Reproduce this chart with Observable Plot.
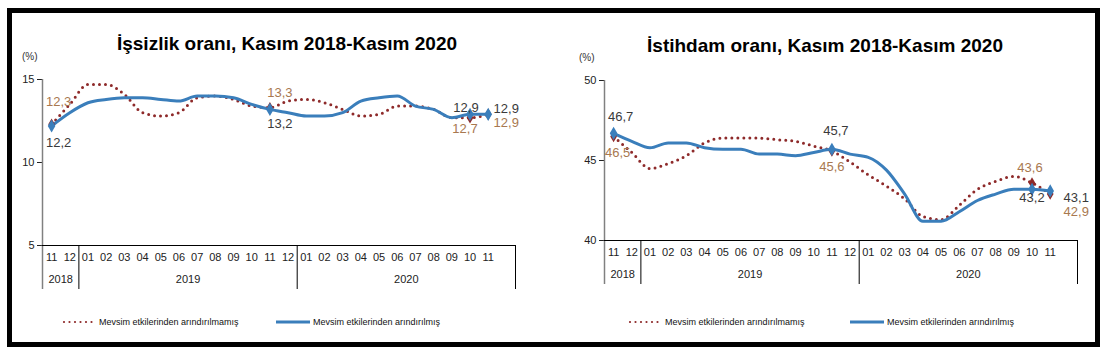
<!DOCTYPE html>
<html><head><meta charset="utf-8">
<script src="https://cdn.jsdelivr.net/npm/d3@7"></script>
<script src="https://cdn.jsdelivr.net/npm/@observablehq/plot@0.6"></script>
<style>
body{margin:0;background:#fff;font-family:"Liberation Sans",Arial,sans-serif;}
#page{position:relative;width:1104px;height:355px;overflow:hidden;background:#fff;}
#frame{position:absolute;left:7px;top:8px;width:1093px;height:339px;border:5px solid #000;box-sizing:border-box;}
.title{position:absolute;font-weight:bold;font-size:19px;color:#000;white-space:nowrap;transform:translateX(-50%);}
.unit{position:absolute;font-size:10px;color:#333;}
.chart{position:absolute;top:0;}
.leg{position:absolute;top:317px;font-size:9px;color:#111;display:flex;align-items:center;white-space:nowrap;}
.leg svg{margin-right:3px;}
</style></head><body>
<div id="page">
  <div id="frame"></div>
  <div class="title" style="left:287px;top:33px">İşsizlik oranı, Kasım 2018-Kasım 2020</div>
  <div class="title" style="left:825px;top:35px">İstihdam oranı, Kasım 2018-Kasım 2020</div>
  <div class="unit" style="left:22px;top:51px">(%)</div>
  <div class="unit" style="left:579px;top:52px">(%)</div>
  <div id="left" class="chart" style="left:0px"></div>
  <div id="right" class="chart" style="left:560px"></div>
  <div id="legends"></div>
</div>
<script>
// ---- data ----
const periods = ["2018-11","2018-12",
  "2019-01","2019-02","2019-03","2019-04","2019-05","2019-06","2019-07","2019-08","2019-09","2019-10","2019-11","2019-12",
  "2020-01","2020-02","2020-03","2020-04","2020-05","2020-06","2020-07","2020-08","2020-09","2020-10","2020-11"];
const seriesNames = ["Mevsim etkilerinden arındırılmamış", "Mevsim etkilerinden arındırılmış"];
const unempNSA = [12.3,13.5,14.7,14.7,14.1,13.0,12.8,13.0,13.9,14.0,13.8,13.4,13.3,13.7,13.8,13.6,13.2,12.8,12.9,13.4,13.4,13.2,12.7,12.7,12.9];
const unempSA  = [12.2,13.0,13.6,13.8,13.9,13.9,13.8,13.7,14.0,14.0,13.9,13.5,13.2,13.0,12.8,12.8,13.0,13.7,13.9,14.0,13.4,13.2,12.7,12.9,12.9];
const empNSA   = [46.5,45.5,44.5,44.8,45.3,46.1,46.4,46.4,46.4,46.3,46.2,45.9,45.6,44.9,44.1,43.4,42.6,41.5,41.3,42.2,43.2,43.7,44.0,43.6,42.9];
const empSA    = [46.7,46.2,45.8,46.1,46.1,45.8,45.7,45.7,45.4,45.4,45.3,45.5,45.7,45.4,45.2,44.4,42.9,41.2,41.2,41.8,42.5,42.9,43.2,43.2,43.1];
const unempTicks = [5,10,15];
const empTicks = [40,45,50];
const labeled = [0,12,23,24]; // Kasım 2018, Kasım 2019, Ekim 2020, Kasım 2020

// ---- styles ----
const BLUE = "#3a7ebb", RED = "#8e2a2a", BROWN = "#a8784f", DARK = "#3a3a3a";
const FONT = "Liberation Sans, Arial, sans-serif";

// the category axis has one trailing empty slot (Aralık 2020)
const slots = periods.length + 1;
const fmt = v => v.toFixed(1).replace(".", ",");

function yearGroups() {
  const g = [];
  periods.forEach((p, i) => {
    const y = p.slice(0, 4);
    if (!g.length || g[g.length - 1].year !== y) g.push({year: y, start: i, end: i + 1});
    else g[g.length - 1].end = i + 1;
  });
  g[g.length - 1].end = slots;
  return g;
}

function panel({nsa, sa, ticks, width, marginLeft, marginRight, marginTop, marginBottom, lab}) {
  const rows = periods.map((p, i) => ({x: i + 0.5, month: p.slice(5), nsa: nsa[i], sa: sa[i]}));
  const groups = yearGroups();
  const seps = [...new Set(groups.flatMap(d => [d.start, d.end]))];
  const base = ticks[0], top = ticks[ticks.length - 1];
  const label = (series, i, fill, dx, dy) => Plot.text([i], {
    x: d => d + 0.5, y: d => series[d], text: d => fmt(series[d]),
    fill, dx, dy, fontSize: 13
  });
  return Plot.plot({
    width, height: 300, marginLeft, marginRight, marginTop, marginBottom,
    style: {fontFamily: FONT, fontSize: "11px", color: "#222", background: "transparent"},
    x: {domain: [0, slots], axis: null},
    y: {domain: [base, top], ticks, tickSize: 5, tickPadding: 3, label: null},
    marks: [
      Plot.ruleX([0], {y1: top, y2: base, stroke: "#808080", strokeWidth: 1.5, insetBottom: -44}),
      Plot.ruleY([base], {stroke: "#000"}),
      Plot.ruleX(seps.slice(1), {y1: base, y2: base, stroke: "#000", insetBottom: -44}),
      Plot.text(rows, {x: "x", text: "month", frameAnchor: "bottom", dy: 15, fill: "#222", fontSize: 11}),
      Plot.text(groups, {x: d => (d.start + d.end) / 2, text: "year", frameAnchor: "bottom", dy: 37, fill: "#222", fontSize: 11}),
      Plot.line(rows, {x: "x", y: "nsa", stroke: RED, strokeWidth: 3, strokeDasharray: "0 6", strokeLinecap: "round", curve: "monotone-x"}),
      Plot.line(rows, {x: "x", y: "sa", stroke: BLUE, strokeWidth: 3, curve: "monotone-x"}),
      Plot.dot(labeled, {x: d => d + 0.5, y: d => nsa[d], symbol: "diamond", r: 3.5, fill: RED}),
      Plot.dot(labeled, {x: d => d + 0.5, y: d => sa[d], symbol: "diamond", r: 4, fill: BLUE}),
      ...lab.map(([which, i, dx, dy]) => which === "nsa" ? label(nsa, i, BROWN, dx, dy) : label(sa, i, DARK, dx, dy))
    ]
  });
}

document.getElementById("left").append(panel({
  nsa: unempNSA, sa: unempSA, ticks: unempTicks,
  width: 552, marginLeft: 42, marginRight: 37, marginTop: 79, marginBottom: 55,
  lab: [["nsa",0,7,-22],["sa",0,7,17],["nsa",12,10,-15],["sa",12,10,14],
        ["sa",23,-4,-7],["nsa",23,-5,11],["sa",24,18,-6],["nsa",24,18,8]]
}));
document.getElementById("right").append(panel({
  nsa: empNSA, sa: empSA, ticks: empTicks,
  width: 544, marginLeft: 44, marginRight: 27, marginTop: 80, marginBottom: 60,
  lab: [["sa",0,7,-16],["nsa",0,4,16],["sa",12,4,-18],["nsa",12,0,16],
        ["nsa",23,-2,-15],["sa",23,0,9],["sa",24,26,7],["nsa",24,26,18]]
}));

// ---- legends ----
const legendPos = [[62, 276], [628, 850]];
const legHost = document.getElementById("legends");
legendPos.forEach(([a, b]) => {
  [[a, 0], [b, 1]].forEach(([left, k]) => {
    const div = document.createElement("div");
    div.className = "leg";
    div.style.left = left + "px";
    const sw = k === 0
      ? `<svg width="34" height="6"><line x1="2" y1="3" x2="33" y2="3" stroke="${RED}" stroke-width="2.2" stroke-dasharray="0 5.5" stroke-linecap="round"/></svg>`
      : `<svg width="34" height="6"><line x1="0" y1="3" x2="34" y2="3" stroke="${BLUE}" stroke-width="3"/></svg>`;
    div.innerHTML = sw + `<span>${seriesNames[k]}</span>`;
    legHost.append(div);
  });
});
</script>
</body></html>
